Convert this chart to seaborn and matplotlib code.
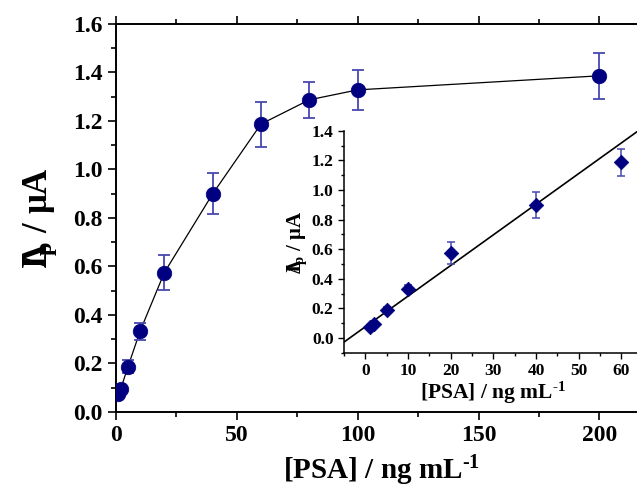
import numpy as np
import pandas as pd
import matplotlib
matplotlib.use("Agg")
import matplotlib.pyplot as plt
import seaborn as sns
from matplotlib.ticker import MultipleLocator, FormatStrFormatter

# datos
psa = [1, 2, 5, 10, 20, 40, 60, 80, 100, 200]
ip = [0.075, 0.095, 0.187, 0.333, 0.574, 0.899, 1.187, 1.287, 1.328, 1.386]
ip_err = [0.012, 0.012, 0.025, 0.035, 0.072, 0.085, 0.093, 0.075, 0.082, 0.095]

# rango lineal (inset)
psa_lin = [1, 2, 5, 10, 20, 40, 60]
ip_lin = [0.075, 0.095, 0.187, 0.333, 0.574, 0.899, 1.187]
ip_lin_err = [0.012, 0.012, 0.02, 0.025, 0.072, 0.085, 0.093]
slope = 0.0207
intercept = 0.076
fit_range = [-5, 65]

df = pd.DataFrame({"PSA": psa, "Ip": ip})
df_lin = pd.DataFrame({"PSA": psa_lin, "Ip": ip_lin})
df_fit = pd.DataFrame({"PSA": fit_range})
df_fit["Ip"] = slope * df_fit["PSA"] + intercept

sns.set_style("ticks")
plt.rcParams["font.family"] = ["Liberation Serif", "DejaVu Serif"]
plt.rcParams["font.weight"] = "bold"
plt.rcParams["mathtext.fontset"] = "custom"
plt.rcParams["mathtext.rm"] = "Liberation Serif:bold"
plt.rcParams["mathtext.bf"] = "Liberation Serif:bold"
plt.rcParams["mathtext.it"] = "Liberation Serif:bold"
for k in ["text.color", "axes.labelcolor", "xtick.color", "ytick.color", "axes.edgecolor"]:
    plt.rcParams[k] = "black"

navy = "#000080"
err_col = "#4848b0"

fig = plt.figure(figsize=(6.37, 4.88), dpi=100)
ax = fig.add_axes([0.182, 0.156, 0.835, 0.795])

sns.lineplot(data=df, x="PSA", y="Ip", color="black", lw=0.9, ax=ax, zorder=2)
ax.errorbar(psa, ip, yerr=ip_err, fmt="none", ecolor=err_col, elinewidth=1.3,
            capsize=4, capthick=1.3, zorder=3)
sns.scatterplot(data=df, x="PSA", y="Ip", color=navy, s=110, edgecolor=navy,
                linewidth=0.5, ax=ax, zorder=4)

ax.set_xlim(0, 220)
ax.set_ylim(0, 1.6)
ax.xaxis.set_major_locator(MultipleLocator(50))
ax.xaxis.set_minor_locator(MultipleLocator(25))
ax.yaxis.set_major_locator(MultipleLocator(0.2))
ax.yaxis.set_minor_locator(MultipleLocator(0.1))
ax.yaxis.set_major_formatter(FormatStrFormatter("%.1f"))
ax.tick_params(axis="both", which="major", labelsize=17, length=6, width=1.2, direction="out")
ax.tick_params(axis="both", which="minor", length=3.5, width=1.2, direction="out")
ax.tick_params(axis="x", top=True, which="both")
for s in ax.spines.values():
    s.set_linewidth(1.4)
ax.set_xlabel(r"[PSA] / ng mL$^{\text{-}1}$", fontsize=21, fontweight="bold", labelpad=5)
ax.set_ylabel(r"$\Delta\!\!\!\!\!\mathregular{I_p}$ / μA", fontsize=25, fontweight="bold", labelpad=10)

# inset
axi = fig.add_axes([0.540, 0.277, 0.469, 0.455])
axi.patch.set_alpha(0)
sns.lineplot(data=df_fit, x="PSA", y="Ip", color="black", lw=1.2, ax=axi, zorder=2)
axi.errorbar(psa_lin, ip_lin, yerr=ip_lin_err, fmt="none", ecolor=err_col, elinewidth=1.1,
             capsize=3, capthick=1.1, zorder=3)
sns.scatterplot(data=df_lin, x="PSA", y="Ip", color=navy, marker="D", s=55, edgecolor=navy,
                linewidth=0.5, ax=axi, zorder=4)
axi.set_xlim(-5, 65)
axi.set_ylim(-0.1, 1.4)
axi.xaxis.set_major_locator(MultipleLocator(10))
axi.xaxis.set_minor_locator(MultipleLocator(5))
axi.yaxis.set_major_locator(MultipleLocator(0.2))
axi.yaxis.set_minor_locator(MultipleLocator(0.1))
axi.yaxis.set_major_formatter(FormatStrFormatter("%.1f"))
axi.tick_params(axis="both", which="major", labelsize=12.5, length=4, width=1, direction="out")
axi.tick_params(axis="both", which="minor", length=2.5, width=1, direction="out")
sns.despine(ax=axi)
for s in ["left", "bottom"]:
    axi.spines[s].set_linewidth(1.1)
axi.set_xlabel(r"[PSA] / ng mL$^{\text{-}1}$", fontsize=15.5, fontweight="bold", labelpad=0.5)
axi.set_ylabel(r"$\Delta\!\!\!\!\mathregular{I_p}$ / μA", fontsize=15, fontweight="bold", labelpad=2)

fig.savefig("out.png", dpi=100)
